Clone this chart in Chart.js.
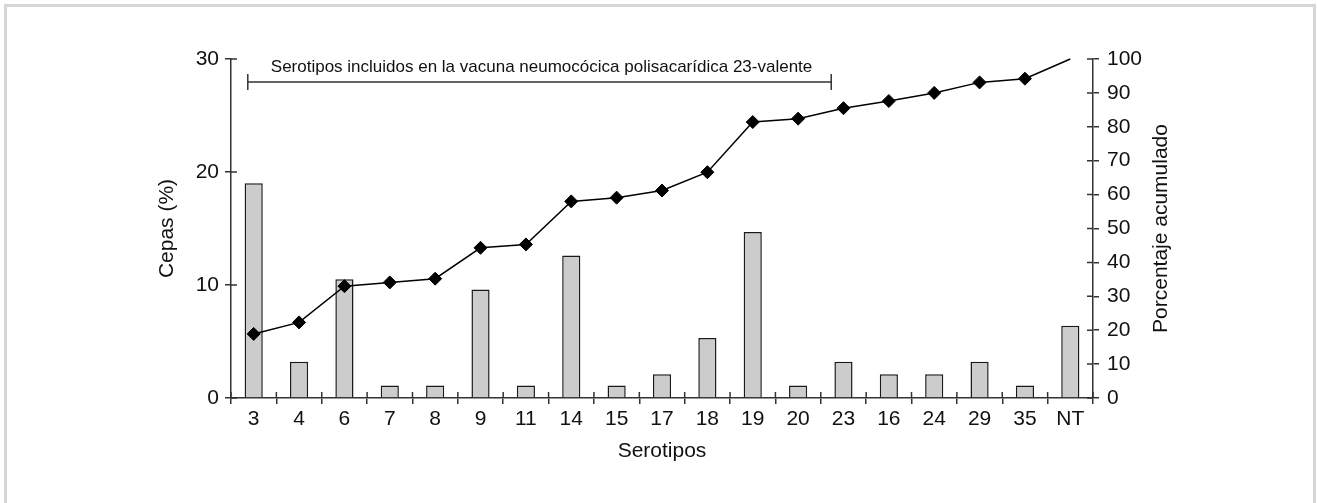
<!DOCTYPE html>
<html>
<head>
<meta charset="utf-8">
<title>Serotipos</title>
<script src="https://cdn.jsdelivr.net/npm/chart.js@4.4.1/dist/chart.umd.min.js"></script>
<style>
    body { margin: 0; background: #fff; overflow: hidden; }
    #frame { position: absolute; left: 4px; top: 4px; width: 1306px; height: 520px; border: 3px solid #d6d6d6; }
    #graph-container { position: absolute; left: 0; top: 0; }
</style>
</head>
<body>
<div id="frame"></div>
<canvas id="graph-container" width="1317" height="503"></canvas>
<script>
'use strict';
var serotipos = ['3', '4', '6', '7', '8', '9', '11', '14', '15', '17', '18', '19', '20', '23', '16', '24', '29', '35', 'NT'];
var cepas = [19.0, 3.2, 10.5, 1.1, 1.1, 9.6, 1.1, 12.6, 1.1, 2.1, 5.3, 14.7, 1.1, 3.2, 2.1, 2.1, 3.2, 1.1, 6.4];
var acumulado = [18.9, 22.3, 33.0, 34.1, 35.2, 44.3, 45.3, 58.0, 59.1, 61.2, 66.6, 81.4, 82.4, 85.5, 87.6, 90.0, 93.1, 94.2, 100];
var cepasTicks = [0, 10, 20, 30];
var acumuladoTicks = [0, 10, 20, 30, 40, 50, 60, 70, 80, 90, 100];
var vacunaTexto = 'Serotipos incluidos en la vacuna neumocócica polisacarídica 23-valente';
// first and last serotype covered by the vaccine bracket
var vacunaDesde = '3';
var vacunaHasta = '23';

var fontFamily = '"Liberation Sans", Arial, sans-serif';
var ink = '#111';
var axisColor = '#333';

// last point of the line has no marker
var pointSizes = acumulado.map(function (v, i) { return i === acumulado.length - 1 ? 0 : 6.5; });

// inward half of the tick marks (chart.js only draws them outward)
var crossTicks = {
    id: 'crossTicks',
    afterDraw: function (chart) {
        var ctx = chart.ctx;
        var x = chart.scales.x, y = chart.scales.y, y1 = chart.scales.y1;
        ctx.save();
        ctx.strokeStyle = axisColor;
        ctx.lineWidth = 1.5;
        ctx.beginPath();
        for (var i = 0; i <= serotipos.length; i++) {
            var px = x.getPixelForValue(i - 0.5);
            ctx.moveTo(px, x.top - 6);
            ctx.lineTo(px, x.top);
        }
        cepasTicks.forEach(function (v) {
            var py = y.getPixelForValue(v);
            ctx.moveTo(y.right, py);
            ctx.lineTo(y.right + 6, py);
        });
        acumuladoTicks.forEach(function (v) {
            var py = y1.getPixelForValue(v);
            ctx.moveTo(y1.left - 6, py);
            ctx.lineTo(y1.left, py);
        });
        ctx.stroke();
        ctx.restore();
    }
};

// vaccine bracket + right axis title (reads bottom to top)
var extras = {
    id: 'extras',
    afterDraw: function (chart) {
        var ctx = chart.ctx;
        var x = chart.scales.x, y1 = chart.scales.y1;
        var a = x.getPixelForValue(serotipos.indexOf(vacunaDesde) - 0.13);
        var b = x.getPixelForValue(serotipos.indexOf(vacunaHasta) - 0.27);
        var by = chart.chartArea.top + 23;
        ctx.save();
        ctx.strokeStyle = axisColor;
        ctx.lineWidth = 1.5;
        ctx.beginPath();
        ctx.moveTo(a, by); ctx.lineTo(b, by);
        ctx.moveTo(a, by - 8); ctx.lineTo(a, by + 8);
        ctx.moveTo(b, by - 8); ctx.lineTo(b, by + 8);
        ctx.stroke();
        ctx.fillStyle = ink;
        ctx.font = '17px ' + fontFamily;
        ctx.textBaseline = 'middle';
        ctx.textAlign = 'left';
        ctx.fillText(vacunaTexto, a + 23, by - 15);

        ctx.font = '21px ' + fontFamily;
        ctx.textAlign = 'center';
        ctx.translate(y1.left + 68, (chart.chartArea.top + chart.chartArea.bottom) / 2);
        ctx.rotate(-Math.PI / 2);
        ctx.fillText('Porcentaje acumulado', 0, 0);
        ctx.restore();
    }
};

var ctx = document.getElementById('graph-container');
var myChart = new Chart(ctx, {
    type: 'bar',
    data: {
        labels: serotipos,
        datasets: [{
            type: 'line',
            label: 'Porcentaje acumulado',
            data: acumulado,
            yAxisID: 'y1',
            borderColor: '#000',
            borderWidth: 1.5,
            pointStyle: 'rectRot',
            pointRadius: pointSizes,
            pointBackgroundColor: '#000',
            pointBorderColor: '#000',
            pointBorderWidth: 1,
            tension: 0,
            clip: false,
            order: 0
        }, {
            type: 'bar',
            label: 'Cepas (%)',
            data: cepas,
            yAxisID: 'y',
            backgroundColor: '#cccccc',
            borderColor: '#1a1a1a',
            borderWidth: 1.5,
            categoryPercentage: 1,
            barPercentage: 0.4,
            order: 1
        }]
    },
    options: {
        responsive: false,
        animation: false,
        devicePixelRatio: 1,
        layout: { padding: { top: 59, left: 0, right: 0, bottom: 0 } },
        plugins: {
            legend: { display: false },
            tooltip: { enabled: false }
        },
        scales: {
            x: {
                offset: true,
                grid: { offset: true, drawOnChartArea: false, tickLength: 6, color: axisColor, lineWidth: 1.5 },
                border: { color: axisColor, width: 1.5 },
                ticks: { color: ink, font: { family: fontFamily, size: 21 }, padding: 3, maxRotation: 0, autoSkip: false },
                title: { display: true, text: 'Serotipos', color: ink, font: { family: fontFamily, size: 21 }, padding: { top: 0, bottom: 39 } },
                afterFit: function (scale) { scale.height = 105; }
            },
            y: {
                position: 'left',
                min: 0,
                max: 30,
                afterBuildTicks: function (scale) { scale.ticks = cepasTicks.map(function (v) { return { value: v }; }); },
                grid: { drawOnChartArea: false, tickLength: 6, color: axisColor, lineWidth: 1.5 },
                border: { color: axisColor, width: 1.5 },
                ticks: { color: ink, font: { family: fontFamily, size: 21 }, padding: 6 },
                title: { display: true, text: 'Cepas (%)', color: ink, font: { family: fontFamily, size: 21 }, padding: { top: 155, bottom: 0 } },
                afterFit: function (scale) { scale.width = 231; }
            },
            y1: {
                position: 'right',
                min: 0,
                max: 100,
                afterBuildTicks: function (scale) { scale.ticks = acumuladoTicks.map(function (v) { return { value: v }; }); },
                grid: { drawOnChartArea: false, tickLength: 6, color: axisColor, lineWidth: 1.5 },
                border: { color: axisColor, width: 1.5 },
                ticks: { color: ink, font: { family: fontFamily, size: 21 }, padding: 8 },
                afterFit: function (scale) { scale.width = 224; }
            }
        }
    },
    plugins: [crossTicks, extras]
});
</script>
</body>
</html>
